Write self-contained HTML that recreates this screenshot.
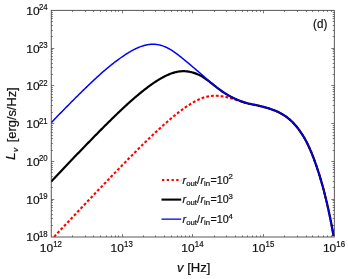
<!DOCTYPE html>
<html><head><meta charset="utf-8"><style>
html,body{margin:0;padding:0;background:#fff;}
svg{display:block;font-family:"Liberation Sans",sans-serif;will-change:transform;}
text{fill:#111;stroke:#111;stroke-width:0.2px;}
</style></head><body>
<svg width="348" height="279" viewBox="0 0 348 279">
<defs><clipPath id="c"><rect x="51.25" y="10.35" width="283.05" height="227.15"/></clipPath></defs>
<rect width="348" height="279" fill="#fff"/>
<rect x="51.25" y="10.35" width="283.05" height="226.65" fill="none" stroke="#3c3c3c" stroke-width="0.85"/>
<path d="M72.50,237.0 v-1.6 M72.50,10.35 v1.6 M85.50,237.0 v-1.6 M85.50,10.35 v1.6 M93.50,237.0 v-1.6 M93.50,10.35 v1.6 M100.50,237.0 v-1.6 M100.50,10.35 v1.6 M106.50,237.0 v-1.6 M106.50,10.35 v1.6 M111.50,237.0 v-1.6 M111.50,10.35 v1.6 M115.50,237.0 v-1.6 M115.50,10.35 v1.6 M118.50,237.0 v-1.6 M118.50,10.35 v1.6 M122.50,237.0 v-3.0 M122.50,10.35 v3.0 M143.50,237.0 v-1.6 M143.50,10.35 v1.6 M155.50,237.0 v-1.6 M155.50,10.35 v1.6 M164.50,237.0 v-1.6 M164.50,10.35 v1.6 M171.50,237.0 v-1.6 M171.50,10.35 v1.6 M177.50,237.0 v-1.6 M177.50,10.35 v1.6 M181.50,237.0 v-1.6 M181.50,10.35 v1.6 M185.50,237.0 v-1.6 M185.50,10.35 v1.6 M189.50,237.0 v-1.6 M189.50,10.35 v1.6 M192.50,237.0 v-3.0 M192.50,10.35 v3.0 M214.50,237.0 v-1.6 M214.50,10.35 v1.6 M226.50,237.0 v-1.6 M226.50,10.35 v1.6 M235.50,237.0 v-1.6 M235.50,10.35 v1.6 M242.50,237.0 v-1.6 M242.50,10.35 v1.6 M247.50,237.0 v-1.6 M247.50,10.35 v1.6 M252.50,237.0 v-1.6 M252.50,10.35 v1.6 M256.50,237.0 v-1.6 M256.50,10.35 v1.6 M260.50,237.0 v-1.6 M260.50,10.35 v1.6 M263.50,237.0 v-3.0 M263.50,10.35 v3.0 M284.50,237.0 v-1.6 M284.50,10.35 v1.6 M297.50,237.0 v-1.6 M297.50,10.35 v1.6 M306.50,237.0 v-1.6 M306.50,10.35 v1.6 M312.50,237.0 v-1.6 M312.50,10.35 v1.6 M318.50,237.0 v-1.6 M318.50,10.35 v1.6 M323.50,237.0 v-1.6 M323.50,10.35 v1.6 M327.50,237.0 v-1.6 M327.50,10.35 v1.6 M331.50,237.0 v-1.6 M331.50,10.35 v1.6 M51.25,225.50 h1.6 M334.3,225.50 h-1.6 M51.25,218.50 h1.6 M334.3,218.50 h-1.6 M51.25,214.50 h1.6 M334.3,214.50 h-1.6 M51.25,210.50 h1.6 M334.3,210.50 h-1.6 M51.25,207.50 h1.6 M334.3,207.50 h-1.6 M51.25,205.50 h1.6 M334.3,205.50 h-1.6 M51.25,202.50 h1.6 M334.3,202.50 h-1.6 M51.25,200.50 h1.6 M334.3,200.50 h-1.6 M51.25,199.50 h3.0 M334.3,199.50 h-3.0 M51.25,187.50 h1.6 M334.3,187.50 h-1.6 M51.25,181.50 h1.6 M334.3,181.50 h-1.6 M51.25,176.50 h1.6 M334.3,176.50 h-1.6 M51.25,172.50 h1.6 M334.3,172.50 h-1.6 M51.25,169.50 h1.6 M334.3,169.50 h-1.6 M51.25,167.50 h1.6 M334.3,167.50 h-1.6 M51.25,165.50 h1.6 M334.3,165.50 h-1.6 M51.25,163.50 h1.6 M334.3,163.50 h-1.6 M51.25,161.50 h3.0 M334.3,161.50 h-3.0 M51.25,150.50 h1.6 M334.3,150.50 h-1.6 M51.25,143.50 h1.6 M334.3,143.50 h-1.6 M51.25,138.50 h1.6 M334.3,138.50 h-1.6 M51.25,135.50 h1.6 M334.3,135.50 h-1.6 M51.25,132.50 h1.6 M334.3,132.50 h-1.6 M51.25,129.50 h1.6 M334.3,129.50 h-1.6 M51.25,127.50 h1.6 M334.3,127.50 h-1.6 M51.25,125.50 h1.6 M334.3,125.50 h-1.6 M51.25,123.50 h3.0 M334.3,123.50 h-3.0 M51.25,112.50 h1.6 M334.3,112.50 h-1.6 M51.25,105.50 h1.6 M334.3,105.50 h-1.6 M51.25,100.50 h1.6 M334.3,100.50 h-1.6 M51.25,97.50 h1.6 M334.3,97.50 h-1.6 M51.25,94.50 h1.6 M334.3,94.50 h-1.6 M51.25,91.50 h1.6 M334.3,91.50 h-1.6 M51.25,89.50 h1.6 M334.3,89.50 h-1.6 M51.25,87.50 h1.6 M334.3,87.50 h-1.6 M51.25,85.50 h3.0 M334.3,85.50 h-3.0 M51.25,74.50 h1.6 M334.3,74.50 h-1.6 M51.25,67.50 h1.6 M334.3,67.50 h-1.6 M51.25,63.50 h1.6 M334.3,63.50 h-1.6 M51.25,59.50 h1.6 M334.3,59.50 h-1.6 M51.25,56.50 h1.6 M334.3,56.50 h-1.6 M51.25,53.50 h1.6 M334.3,53.50 h-1.6 M51.25,51.50 h1.6 M334.3,51.50 h-1.6 M51.25,49.50 h1.6 M334.3,49.50 h-1.6 M51.25,48.50 h3.0 M334.3,48.50 h-3.0 M51.25,36.50 h1.6 M334.3,36.50 h-1.6 M51.25,30.50 h1.6 M334.3,30.50 h-1.6 M51.25,25.50 h1.6 M334.3,25.50 h-1.6 M51.25,21.50 h1.6 M334.3,21.50 h-1.6 M51.25,18.50 h1.6 M334.3,18.50 h-1.6 M51.25,16.50 h1.6 M334.3,16.50 h-1.6 M51.25,14.50 h1.6 M334.3,14.50 h-1.6 M51.25,12.50 h1.6 M334.3,12.50 h-1.6" stroke="#444" stroke-width="0.7" fill="none"/>
<g clip-path="url(#c)">
<path d="M54.09,236.85 L54.80,236.10 L55.51,235.34 L56.22,234.59 L56.93,233.83 L57.63,233.08 L58.34,232.33 L59.05,231.57 L59.76,230.82 L60.47,230.07 L61.18,229.31 L61.89,228.56 L62.60,227.81 L63.31,227.05 L64.02,226.30 L64.73,225.55 L65.44,224.79 L66.15,224.04 L66.86,223.29 L67.57,222.54 L68.28,221.78 L68.98,221.03 L69.69,220.28 L70.40,219.53 L71.11,218.78 L71.82,218.03 L72.53,217.27 L73.24,216.52 L73.95,215.77 L74.66,215.02 L75.37,214.27 L76.08,213.52 L76.79,212.77 L77.50,212.02 L78.21,211.27 L78.92,210.52 L79.63,209.77 L80.34,209.02 L81.04,208.27 L81.75,207.52 L82.46,206.77 L83.17,206.02 L83.88,205.27 L84.59,204.52 L85.30,203.77 L86.01,203.02 L86.72,202.28 L87.43,201.53 L88.14,200.78 L88.85,200.03 L89.56,199.29 L90.27,198.54 L90.98,197.79 L91.69,197.05 L92.40,196.30 L93.10,195.56 L93.81,194.81 L94.52,194.06 L95.23,193.32 L95.94,192.57 L96.65,191.83 L97.36,191.09 L98.07,190.34 L98.78,189.60 L99.49,188.86 L100.20,188.11 L100.91,187.37 L101.62,186.63 L102.33,185.89 L103.04,185.14 L103.75,184.40 L104.45,183.66 L105.16,182.92 L105.87,182.18 L106.58,181.44 L107.29,180.70 L108.00,179.97 L108.71,179.23 L109.42,178.49 L110.13,177.75 L110.84,177.02 L111.55,176.28 L112.26,175.54 L112.97,174.81 L113.68,174.07 L114.39,173.34 L115.10,172.61 L115.81,171.87 L116.51,171.14 L117.22,170.41 L117.93,169.68 L118.64,168.95 L119.35,168.22 L120.06,167.49 L120.77,166.76 L121.48,166.03 L122.19,165.30 L122.90,164.58 L123.61,163.85 L124.32,163.13 L125.03,162.40 L125.74,161.68 L126.45,160.96 L127.16,160.23 L127.87,159.51 L128.57,158.79 L129.28,158.07 L129.99,157.35 L130.70,156.64 L131.41,155.92 L132.12,155.21 L132.83,154.49 L133.54,153.78 L134.25,153.06 L134.96,152.35 L135.67,151.64 L136.38,150.93 L137.09,150.23 L137.80,149.52 L138.51,148.81 L139.22,148.11 L139.92,147.41 L140.63,146.71 L141.34,146.01 L142.05,145.31 L142.76,144.61 L143.47,143.91 L144.18,143.22 L144.89,142.53 L145.60,141.83 L146.31,141.14 L147.02,140.46 L147.73,139.77 L148.44,139.08 L149.15,138.40 L149.86,137.72 L150.57,137.04 L151.28,136.36 L151.98,135.69 L152.69,135.01 L153.40,134.34 L154.11,133.67 L154.82,133.01 L155.53,132.34 L156.24,131.68 L156.95,131.02 L157.66,130.36 L158.37,129.71 L159.08,129.05 L159.79,128.40 L160.50,127.76 L161.21,127.11 L161.92,126.47 L162.63,125.83 L163.33,125.19 L164.04,124.56 L164.75,123.93 L165.46,123.30 L166.17,122.68 L166.88,122.06 L167.59,121.44 L168.30,120.83 L169.01,120.22 L169.72,119.61 L170.43,119.01 L171.14,118.41 L171.85,117.82 L172.56,117.23 L173.27,116.64 L173.98,116.06 L174.69,115.48 L175.39,114.91 L176.10,114.34 L176.81,113.78 L177.52,113.22 L178.23,112.66 L178.94,112.12 L179.65,111.57 L180.36,111.04 L181.07,110.50 L181.78,109.98 L182.49,109.46 L183.20,108.94 L183.91,108.43 L184.62,107.93 L185.33,107.44 L186.04,106.95 L186.75,106.47 L187.45,105.99 L188.16,105.52 L188.87,105.06 L189.58,104.61 L190.29,104.16 L191.00,103.73 L191.71,103.30 L192.42,102.88 L193.13,102.46 L193.84,102.06 L194.55,101.66 L195.26,101.28 L195.97,100.90 L196.68,100.53 L197.39,100.18 L198.10,99.83 L198.80,99.49 L199.51,99.16 L200.22,98.84 L200.93,98.54 L201.64,98.26 L202.35,98.00 L203.06,97.75 L203.77,97.52 L204.48,97.31 L205.19,97.11 L205.90,96.92 L206.61,96.76 L207.32,96.60 L208.03,96.46 L208.74,96.33 L209.45,96.21 L210.16,96.11 L210.86,96.02 L211.57,95.93 L212.28,95.86 L212.99,95.80 L213.70,95.77 L214.41,95.74 L215.12,95.74 L215.83,95.74 L216.54,95.77 L217.25,95.80 L217.96,95.85 L218.67,95.91 L219.38,95.98 L220.09,96.06 L220.80,96.15 L221.51,96.25 L222.22,96.36 L222.92,96.47 L223.63,96.59 L224.34,96.72 L225.05,96.84 L225.76,96.98 L226.47,97.12 L227.18,97.27 L227.89,97.44 L228.60,97.61 L229.31,97.79 L230.02,97.98 L230.73,98.17 L231.44,98.38 L232.15,98.59 L232.86,98.80 L233.57,99.02 L234.27,99.24 L234.98,99.46 L235.69,99.69 L236.40,99.92 L237.11,100.15 L237.82,100.38 L238.53,100.62 L239.24,100.85 L239.95,101.08 L240.66,101.31 L241.37,101.54 L242.08,101.77 L242.79,101.99 L243.50,102.22 L244.21,102.43 L244.92,102.65 L245.63,102.86 L246.33,103.06 L247.04,103.25 L247.75,103.42 L248.46,103.59 L249.17,103.75 L249.88,103.90 L250.59,104.05 L251.30,104.19 L252.01,104.33 L252.72,104.47 L253.43,104.61 L254.14,104.74 L254.85,104.88 L255.56,105.03 L256.27,105.17 L256.98,105.33 L257.68,105.49 L258.39,105.66 L259.10,105.83 L259.81,106.00 L260.52,106.17 L261.23,106.35 L261.94,106.52 L262.65,106.70 L263.36,106.88 L264.07,107.07 L264.78,107.26 L265.49,107.45 L266.20,107.65 L266.91,107.85 L267.62,108.06 L268.33,108.27 L269.04,108.49 L269.74,108.72 L270.45,108.95 L271.16,109.19 L271.87,109.44 L272.58,109.69 L273.29,109.96 L274.00,110.23 L274.71,110.51 L275.42,110.81 L276.13,111.11 L276.84,111.42 L277.55,111.75 L278.26,112.08 L278.97,112.43 L279.68,112.79 L280.39,113.16 L281.10,113.55 L281.80,113.95 L282.51,114.37 L283.22,114.80 L283.93,115.24 L284.64,115.70 L285.35,116.18 L286.06,116.68 L286.77,117.19 L287.48,117.72 L288.19,118.28 L288.90,118.85 L289.61,119.44 L290.32,120.05 L291.02,120.69 L291.72,121.34 L292.41,122.02 L293.10,122.71 L293.78,123.43 L294.47,124.17 L295.15,124.93 L295.83,125.72 L296.51,126.54 L297.19,127.39 L297.88,128.26 L298.56,129.16 L299.25,130.10 L299.94,131.07 L300.64,132.07 L301.33,133.10 L302.02,134.16 L302.72,135.25 L303.41,136.38 L304.10,137.54 L304.80,138.75 L305.49,140.00 L306.18,141.29 L306.88,142.63 L307.58,144.02 L308.27,145.46 L308.97,146.95 L309.67,148.50 L310.37,150.10 L311.07,151.75 L311.77,153.45 L312.48,155.20 L313.18,157.01 L313.89,158.87 L314.60,160.79 L315.31,162.77 L316.03,164.80 L316.75,166.90 L317.47,169.06 L318.20,171.28 L318.93,173.57 L319.66,175.93 L320.39,178.36 L321.13,180.85 L321.86,183.42 L322.60,186.07 L323.34,188.79 L324.08,191.58 L324.82,194.46 L325.56,197.42 L326.30,200.46 L327.04,203.59 L327.77,206.81 L328.51,210.12 L329.24,213.51 L329.98,217.01 L330.70,220.60 L331.43,224.28 L332.15,228.07 L332.87,231.97 L333.59,235.97" stroke="#ff0000" stroke-width="2.1" stroke-dasharray="2.8 2.04" stroke-dashoffset="0" fill="none"/>
<path d="M51.25,181.40 L51.96,180.65 L52.67,179.90 L53.38,179.15 L54.09,178.40 L54.80,177.66 L55.51,176.91 L56.22,176.16 L56.93,175.41 L57.63,174.67 L58.34,173.92 L59.05,173.17 L59.76,172.43 L60.47,171.68 L61.18,170.93 L61.89,170.19 L62.60,169.44 L63.31,168.70 L64.02,167.95 L64.73,167.21 L65.44,166.46 L66.15,165.72 L66.86,164.98 L67.57,164.23 L68.28,163.49 L68.98,162.75 L69.69,162.00 L70.40,161.26 L71.11,160.52 L71.82,159.78 L72.53,159.04 L73.24,158.30 L73.95,157.56 L74.66,156.82 L75.37,156.08 L76.08,155.34 L76.79,154.60 L77.50,153.86 L78.21,153.13 L78.92,152.39 L79.63,151.65 L80.34,150.92 L81.04,150.18 L81.75,149.45 L82.46,148.71 L83.17,147.98 L83.88,147.25 L84.59,146.51 L85.30,145.78 L86.01,145.05 L86.72,144.32 L87.43,143.59 L88.14,142.86 L88.85,142.13 L89.56,141.40 L90.27,140.67 L90.98,139.95 L91.69,139.22 L92.40,138.50 L93.10,137.77 L93.81,137.05 L94.52,136.32 L95.23,135.60 L95.94,134.88 L96.65,134.16 L97.36,133.44 L98.07,132.72 L98.78,132.00 L99.49,131.29 L100.20,130.57 L100.91,129.86 L101.62,129.14 L102.33,128.43 L103.04,127.72 L103.75,127.01 L104.45,126.30 L105.16,125.59 L105.87,124.88 L106.58,124.17 L107.29,123.47 L108.00,122.77 L108.71,122.06 L109.42,121.36 L110.13,120.66 L110.84,119.97 L111.55,119.27 L112.26,118.57 L112.97,117.88 L113.68,117.19 L114.39,116.50 L115.10,115.81 L115.81,115.12 L116.51,114.44 L117.22,113.75 L117.93,113.07 L118.64,112.39 L119.35,111.71 L120.06,111.04 L120.77,110.36 L121.48,109.69 L122.19,109.02 L122.90,108.36 L123.61,107.70 L124.32,107.04 L125.03,106.38 L125.74,105.73 L126.45,105.08 L127.16,104.43 L127.87,103.79 L128.57,103.15 L129.28,102.51 L129.99,101.88 L130.70,101.24 L131.41,100.62 L132.12,99.99 L132.83,99.37 L133.54,98.75 L134.25,98.14 L134.96,97.53 L135.67,96.92 L136.38,96.32 L137.09,95.72 L137.80,95.13 L138.51,94.54 L139.22,93.95 L139.92,93.36 L140.63,92.79 L141.34,92.21 L142.05,91.64 L142.76,91.07 L143.47,90.51 L144.18,89.95 L144.89,89.40 L145.60,88.85 L146.31,88.31 L147.02,87.77 L147.73,87.24 L148.44,86.71 L149.15,86.19 L149.86,85.67 L150.57,85.16 L151.28,84.65 L151.98,84.15 L152.69,83.66 L153.40,83.17 L154.11,82.69 L154.82,82.21 L155.53,81.74 L156.24,81.28 L156.95,80.82 L157.66,80.37 L158.37,79.93 L159.08,79.50 L159.79,79.07 L160.50,78.65 L161.21,78.24 L161.92,77.84 L162.63,77.45 L163.33,77.06 L164.04,76.69 L164.75,76.33 L165.46,75.97 L166.17,75.63 L166.88,75.30 L167.59,74.98 L168.30,74.67 L169.01,74.37 L169.72,74.08 L170.43,73.80 L171.14,73.54 L171.85,73.29 L172.56,73.05 L173.27,72.83 L173.98,72.62 L174.69,72.42 L175.39,72.23 L176.10,72.06 L176.81,71.91 L177.52,71.76 L178.23,71.64 L178.94,71.53 L179.65,71.43 L180.36,71.35 L181.07,71.28 L181.78,71.23 L182.49,71.20 L183.20,71.18 L183.91,71.18 L184.62,71.20 L185.33,71.23 L186.04,71.28 L186.75,71.35 L187.45,71.43 L188.16,71.54 L188.87,71.66 L189.58,71.79 L190.29,71.95 L191.00,72.11 L191.71,72.29 L192.42,72.48 L193.13,72.68 L193.84,72.89 L194.55,73.12 L195.26,73.36 L195.97,73.62 L196.68,73.89 L197.39,74.17 L198.10,74.47 L198.80,74.79 L199.51,75.12 L200.22,75.48 L200.93,75.85 L201.64,76.24 L202.35,76.66 L203.06,77.11 L203.77,77.57 L204.48,78.06 L205.19,78.55 L205.90,79.06 L206.61,79.58 L207.32,80.11 L208.03,80.64 L208.74,81.18 L209.45,81.73 L210.16,82.28 L210.86,82.83 L211.57,83.37 L212.28,83.92 L212.99,84.47 L213.70,85.03 L214.41,85.58 L215.12,86.14 L215.83,86.70 L216.54,87.25 L217.25,87.80 L217.96,88.35 L218.67,88.89 L219.38,89.43 L220.09,89.96 L220.80,90.48 L221.51,90.99 L222.22,91.49 L222.92,91.97 L223.63,92.45 L224.34,92.91 L225.05,93.35 L225.76,93.78 L226.47,94.21 L227.18,94.63 L227.89,95.04 L228.60,95.45 L229.31,95.84 L230.02,96.23 L230.73,96.61 L231.44,96.98 L232.15,97.35 L232.86,97.70 L233.57,98.05 L234.27,98.39 L234.98,98.72 L235.69,99.04 L236.40,99.36 L237.11,99.67 L237.82,99.97 L238.53,100.26 L239.24,100.55 L239.95,100.82 L240.66,101.10 L241.37,101.36 L242.08,101.62 L242.79,101.87 L243.50,102.11 L244.21,102.35 L244.92,102.58 L245.63,102.80 L246.33,103.01 L247.04,103.21 L247.75,103.39 L248.46,103.57 L249.17,103.73 L249.88,103.89 L250.59,104.04 L251.30,104.18 L252.01,104.33 L252.72,104.46 L253.43,104.60 L254.14,104.74 L254.85,104.88 L255.56,105.03 L256.27,105.17 L256.98,105.33 L257.68,105.49 L258.39,105.66 L259.10,105.83 L259.81,106.00 L260.52,106.17 L261.23,106.35 L261.94,106.52 L262.65,106.70 L263.36,106.88 L264.07,107.07 L264.78,107.26 L265.49,107.45 L266.20,107.65 L266.91,107.85 L267.62,108.06 L268.33,108.27 L269.04,108.49 L269.74,108.72 L270.45,108.95 L271.16,109.19 L271.87,109.44 L272.58,109.69 L273.29,109.96 L274.00,110.23 L274.71,110.51 L275.42,110.81 L276.13,111.11 L276.84,111.42 L277.55,111.75 L278.26,112.08 L278.97,112.43 L279.68,112.79 L280.39,113.16 L281.10,113.55 L281.80,113.95 L282.51,114.37 L283.22,114.80 L283.93,115.24 L284.64,115.70 L285.35,116.18 L286.06,116.68 L286.77,117.19 L287.48,117.72 L288.19,118.28 L288.90,118.85 L289.61,119.44 L290.32,120.05 L291.02,120.69 L291.72,121.34 L292.41,122.02 L293.10,122.71 L293.78,123.43 L294.47,124.17 L295.15,124.93 L295.83,125.72 L296.51,126.54 L297.19,127.39 L297.88,128.26 L298.56,129.16 L299.25,130.10 L299.94,131.07 L300.64,132.07 L301.33,133.10 L302.02,134.16 L302.72,135.25 L303.41,136.38 L304.10,137.54 L304.80,138.75 L305.49,140.00 L306.18,141.29 L306.88,142.63 L307.58,144.02 L308.27,145.46 L308.97,146.95 L309.67,148.50 L310.37,150.10 L311.07,151.75 L311.77,153.45 L312.48,155.20 L313.18,157.01 L313.89,158.87 L314.60,160.79 L315.31,162.77 L316.03,164.80 L316.75,166.90 L317.47,169.06 L318.20,171.28 L318.93,173.57 L319.66,175.93 L320.39,178.36 L321.13,180.85 L321.86,183.42 L322.60,186.07 L323.34,188.79 L324.08,191.58 L324.82,194.46 L325.56,197.42 L326.30,200.46 L327.04,203.59 L327.77,206.81 L328.51,210.11 L329.24,213.51 L329.98,217.01 L330.70,220.60 L331.43,224.28 L332.15,228.07 L332.87,231.97 L333.59,235.97" stroke="#000" stroke-width="2.2" fill="none" stroke-linejoin="round"/>
<path d="M51.25,122.62 L51.96,121.89 L52.67,121.15 L53.38,120.42 L54.09,119.69 L54.80,118.95 L55.51,118.22 L56.22,117.49 L56.93,116.76 L57.63,116.03 L58.34,115.30 L59.05,114.57 L59.76,113.84 L60.47,113.12 L61.18,112.39 L61.89,111.67 L62.60,110.94 L63.31,110.22 L64.02,109.49 L64.73,108.77 L65.44,108.05 L66.15,107.33 L66.86,106.61 L67.57,105.89 L68.28,105.17 L68.98,104.45 L69.69,103.74 L70.40,103.02 L71.11,102.31 L71.82,101.59 L72.53,100.88 L73.24,100.17 L73.95,99.46 L74.66,98.75 L75.37,98.04 L76.08,97.34 L76.79,96.63 L77.50,95.93 L78.21,95.23 L78.92,94.53 L79.63,93.83 L80.34,93.13 L81.04,92.43 L81.75,91.73 L82.46,91.04 L83.17,90.35 L83.88,89.66 L84.59,88.97 L85.30,88.28 L86.01,87.59 L86.72,86.91 L87.43,86.23 L88.14,85.55 L88.85,84.87 L89.56,84.19 L90.27,83.52 L90.98,82.84 L91.69,82.17 L92.40,81.50 L93.10,80.84 L93.81,80.17 L94.52,79.51 L95.23,78.85 L95.94,78.20 L96.65,77.54 L97.36,76.89 L98.07,76.24 L98.78,75.59 L99.49,74.95 L100.20,74.31 L100.91,73.67 L101.62,73.04 L102.33,72.41 L103.04,71.79 L103.75,71.17 L104.45,70.56 L105.16,69.95 L105.87,69.34 L106.58,68.74 L107.29,68.15 L108.00,67.56 L108.71,66.97 L109.42,66.39 L110.13,65.81 L110.84,65.24 L111.55,64.67 L112.26,64.11 L112.97,63.55 L113.68,63.00 L114.39,62.45 L115.10,61.91 L115.81,61.37 L116.51,60.84 L117.22,60.31 L117.93,59.79 L118.64,59.27 L119.35,58.76 L120.06,58.25 L120.77,57.75 L121.48,57.25 L122.19,56.77 L122.90,56.28 L123.61,55.80 L124.32,55.33 L125.03,54.87 L125.74,54.41 L126.45,53.95 L127.16,53.50 L127.87,53.06 L128.57,52.63 L129.28,52.20 L129.99,51.78 L130.70,51.37 L131.41,50.97 L132.12,50.57 L132.83,50.19 L133.54,49.81 L134.25,49.44 L134.96,49.09 L135.67,48.74 L136.38,48.41 L137.09,48.09 L137.80,47.77 L138.51,47.47 L139.22,47.18 L139.92,46.90 L140.63,46.64 L141.34,46.39 L142.05,46.15 L142.76,45.92 L143.47,45.70 L144.18,45.50 L144.89,45.32 L145.60,45.15 L146.31,44.99 L147.02,44.84 L147.73,44.72 L148.44,44.60 L149.15,44.51 L149.86,44.42 L150.57,44.36 L151.28,44.31 L151.98,44.27 L152.69,44.26 L153.40,44.26 L154.11,44.27 L154.82,44.31 L155.53,44.36 L156.24,44.43 L156.95,44.52 L157.66,44.62 L158.37,44.74 L159.08,44.89 L159.79,45.04 L160.50,45.22 L161.21,45.42 L161.92,45.63 L162.63,45.86 L163.33,46.11 L164.04,46.38 L164.75,46.66 L165.46,46.96 L166.17,47.28 L166.88,47.62 L167.59,47.97 L168.30,48.34 L169.01,48.73 L169.72,49.13 L170.43,49.55 L171.14,49.98 L171.85,50.43 L172.56,50.89 L173.27,51.36 L173.98,51.85 L174.69,52.35 L175.39,52.86 L176.10,53.37 L176.81,53.90 L177.52,54.43 L178.23,54.97 L178.94,55.52 L179.65,56.07 L180.36,56.63 L181.07,57.19 L181.78,57.76 L182.49,58.33 L183.20,58.91 L183.91,59.49 L184.62,60.07 L185.33,60.65 L186.04,61.24 L186.75,61.83 L187.45,62.42 L188.16,63.01 L188.87,63.61 L189.58,64.20 L190.29,64.80 L191.00,65.40 L191.71,66.00 L192.42,66.60 L193.13,67.20 L193.84,67.80 L194.55,68.40 L195.26,69.01 L195.97,69.61 L196.68,70.22 L197.39,70.82 L198.10,71.43 L198.80,72.04 L199.51,72.65 L200.22,73.25 L200.93,73.86 L201.64,74.47 L202.35,75.09 L203.06,75.71 L203.77,76.33 L204.48,76.96 L205.19,77.58 L205.90,78.21 L206.61,78.83 L207.32,79.46 L208.03,80.08 L208.74,80.69 L209.45,81.31 L210.16,81.92 L210.86,82.52 L211.57,83.11 L212.28,83.70 L212.99,84.29 L213.70,84.87 L214.41,85.45 L215.12,86.03 L215.83,86.61 L216.54,87.18 L217.25,87.75 L217.96,88.31 L218.67,88.86 L219.38,89.40 L220.09,89.94 L220.80,90.46 L221.51,90.97 L222.22,91.47 L222.92,91.96 L223.63,92.44 L224.34,92.90 L225.05,93.35 L225.76,93.78 L226.47,94.21 L227.18,94.63 L227.89,95.04 L228.60,95.44 L229.31,95.84 L230.02,96.23 L230.73,96.61 L231.44,96.98 L232.15,97.35 L232.86,97.70 L233.57,98.05 L234.27,98.39 L234.98,98.72 L235.69,99.04 L236.40,99.36 L237.11,99.67 L237.82,99.97 L238.53,100.26 L239.24,100.55 L239.95,100.82 L240.66,101.10 L241.37,101.36 L242.08,101.62 L242.79,101.87 L243.50,102.11 L244.21,102.35 L244.92,102.58 L245.63,102.80 L246.33,103.01 L247.04,103.21 L247.75,103.39 L248.46,103.57 L249.17,103.73 L249.88,103.89 L250.59,104.04 L251.30,104.18 L252.01,104.33 L252.72,104.46 L253.43,104.60 L254.14,104.74 L254.85,104.88 L255.56,105.03 L256.27,105.17 L256.98,105.33 L257.68,105.49 L258.39,105.66 L259.10,105.83 L259.81,106.00 L260.52,106.17 L261.23,106.35 L261.94,106.52 L262.65,106.70 L263.36,106.88 L264.07,107.07 L264.78,107.26 L265.49,107.45 L266.20,107.65 L266.91,107.85 L267.62,108.06 L268.33,108.27 L269.04,108.49 L269.74,108.72 L270.45,108.95 L271.16,109.19 L271.87,109.44 L272.58,109.69 L273.29,109.96 L274.00,110.23 L274.71,110.51 L275.42,110.81 L276.13,111.11 L276.84,111.42 L277.55,111.75 L278.26,112.08 L278.97,112.43 L279.68,112.79 L280.39,113.16 L281.10,113.55 L281.80,113.95 L282.51,114.37 L283.22,114.80 L283.93,115.24 L284.64,115.70 L285.35,116.18 L286.06,116.68 L286.77,117.19 L287.48,117.72 L288.19,118.28 L288.90,118.85 L289.61,119.44 L290.32,120.05 L291.02,120.69 L291.72,121.34 L292.41,122.02 L293.10,122.71 L293.78,123.43 L294.47,124.17 L295.15,124.93 L295.83,125.72 L296.51,126.54 L297.19,127.39 L297.88,128.26 L298.56,129.16 L299.25,130.10 L299.94,131.07 L300.64,132.07 L301.33,133.10 L302.02,134.16 L302.72,135.25 L303.41,136.38 L304.10,137.54 L304.80,138.75 L305.49,140.00 L306.18,141.29 L306.88,142.63 L307.58,144.02 L308.27,145.46 L308.97,146.95 L309.67,148.50 L310.37,150.10 L311.07,151.75 L311.77,153.45 L312.48,155.20 L313.18,157.01 L313.89,158.87 L314.60,160.79 L315.31,162.77 L316.03,164.80 L316.75,166.90 L317.47,169.06 L318.20,171.28 L318.93,173.57 L319.66,175.93 L320.39,178.36 L321.13,180.85 L321.86,183.42 L322.60,186.07 L323.34,188.79 L324.08,191.58 L324.82,194.46 L325.56,197.42 L326.30,200.46 L327.04,203.59 L327.77,206.81 L328.51,210.11 L329.24,213.51 L329.98,217.01 L330.70,220.59 L331.43,224.28 L332.15,228.07 L332.87,231.96 L333.59,235.96" stroke="#0000ff" stroke-width="1.5" fill="none" stroke-linejoin="round"/>
</g>
<text transform="translate(39.59,241.45) scale(1.043,1)" text-anchor="end" font-size="11.5">10</text><text transform="translate(38.99,236.95) scale(0.87,1)" text-anchor="start" font-size="9">18</text>
<text transform="translate(39.59,203.67) scale(1.043,1)" text-anchor="end" font-size="11.5">10</text><text transform="translate(38.99,199.17) scale(0.87,1)" text-anchor="start" font-size="9">19</text>
<text transform="translate(39.59,165.9) scale(1.043,1)" text-anchor="end" font-size="11.5">10</text><text transform="translate(38.99,161.4) scale(0.87,1)" text-anchor="start" font-size="9">20</text>
<text transform="translate(39.59,128.12) scale(1.043,1)" text-anchor="end" font-size="11.5">10</text><text transform="translate(38.99,123.62) scale(0.87,1)" text-anchor="start" font-size="9">21</text>
<text transform="translate(39.59,90.35) scale(1.043,1)" text-anchor="end" font-size="11.5">10</text><text transform="translate(38.99,85.85) scale(0.87,1)" text-anchor="start" font-size="9">22</text>
<text transform="translate(39.59,52.58) scale(1.043,1)" text-anchor="end" font-size="11.5">10</text><text transform="translate(38.99,48.08) scale(0.87,1)" text-anchor="start" font-size="9">23</text>
<text transform="translate(39.59,14.8) scale(1.043,1)" text-anchor="end" font-size="11.5">10</text><text transform="translate(38.99,10.3) scale(0.87,1)" text-anchor="start" font-size="9">24</text>
<text transform="translate(53.17,251.6) scale(1.043,1)" text-anchor="end" font-size="11.5">10</text><text transform="translate(53.27,246.5) scale(0.87,1)" text-anchor="start" font-size="9">12</text>
<text transform="translate(123.93,251.6) scale(1.043,1)" text-anchor="end" font-size="11.5">10</text><text transform="translate(124.03,246.5) scale(0.87,1)" text-anchor="start" font-size="9">13</text>
<text transform="translate(194.69,251.6) scale(1.043,1)" text-anchor="end" font-size="11.5">10</text><text transform="translate(194.79,246.5) scale(0.87,1)" text-anchor="start" font-size="9">14</text>
<text transform="translate(265.45,251.6) scale(1.043,1)" text-anchor="end" font-size="11.5">10</text><text transform="translate(265.55,246.5) scale(0.87,1)" text-anchor="start" font-size="9">15</text>
<text transform="translate(336.22,251.6) scale(1.043,1)" text-anchor="end" font-size="11.5">10</text><text transform="translate(336.32,246.5) scale(0.87,1)" text-anchor="start" font-size="9">16</text>
<text transform="translate(313.0,28.0) scale(0.95,1)" text-anchor="start" font-size="12.3">(d)</text>
<text transform="translate(177,271.7) scale(1.09,1)" text-anchor="start" font-size="12"><tspan font-style="italic">v</tspan> [Hz]</text>
<text transform="translate(15.3,159.9) rotate(-90) scale(1.15,1)" text-anchor="start" font-size="12"><tspan font-style="italic">L</tspan></text>
<text transform="translate(17.8,151.9) rotate(-90) scale(1.05,1)" text-anchor="start" font-size="8"><tspan font-style="italic">v</tspan></text>
<text transform="translate(15.9,142.2) rotate(-90) scale(1.069,1)" text-anchor="start" font-size="12">[erg/s/Hz]</text>
<path d="M162,180.0 H181.2" stroke="#ff0000" stroke-width="2.1" stroke-dasharray="2.3 2.45" fill="none"/><text transform="translate(182.6,183.65) scale(1.037,1)" text-anchor="start" font-size="10.3"><tspan font-style="italic">r</tspan><tspan dy="2.1" font-size="7.5">out</tspan><tspan dy="-2.1">/</tspan><tspan font-style="italic" dx="0.5">r</tspan><tspan dy="2.1" font-size="7.5">in</tspan><tspan dy="-2.1" dx="0.4">=10</tspan><tspan dy="-4.2" font-size="7.5">2</tspan></text>
<path d="M161.5,199.6 H181.2" stroke="#000" stroke-width="2.1" fill="none"/><text transform="translate(182.6,203.25) scale(1.037,1)" text-anchor="start" font-size="10.3"><tspan font-style="italic">r</tspan><tspan dy="2.1" font-size="7.5">out</tspan><tspan dy="-2.1">/</tspan><tspan font-style="italic" dx="0.5">r</tspan><tspan dy="2.1" font-size="7.5">in</tspan><tspan dy="-2.1" dx="0.4">=10</tspan><tspan dy="-4.2" font-size="7.5">3</tspan></text>
<path d="M161.5,219.15 H181.2" stroke="#0000ff" stroke-width="1.3" fill="none"/><text transform="translate(182.6,222.8) scale(1.037,1)" text-anchor="start" font-size="10.3"><tspan font-style="italic">r</tspan><tspan dy="2.1" font-size="7.5">out</tspan><tspan dy="-2.1">/</tspan><tspan font-style="italic" dx="0.5">r</tspan><tspan dy="2.1" font-size="7.5">in</tspan><tspan dy="-2.1" dx="0.4">=10</tspan><tspan dy="-4.2" font-size="7.5">4</tspan></text>
</svg>
</body></html>
